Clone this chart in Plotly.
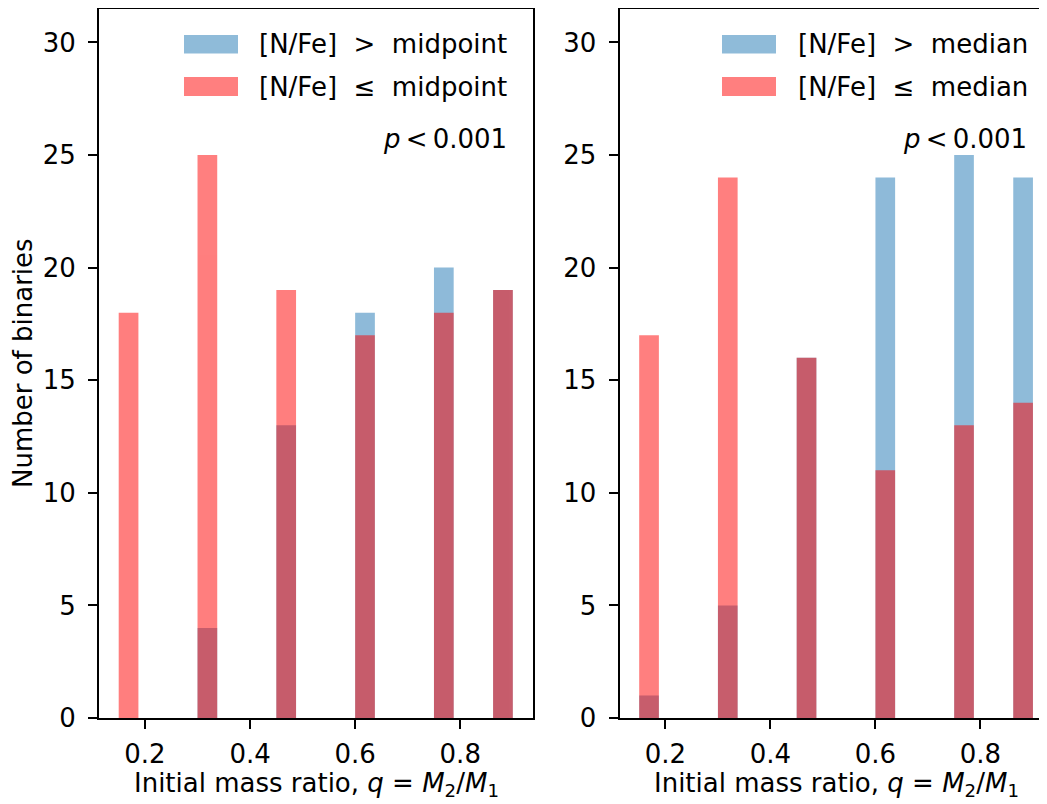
import plotly.graph_objects as go

# ---- data ----
bin_centers = [0.16875, 0.31875, 0.46875, 0.61875, 0.76875, 0.88125]
bin_width = 0.0375
mid_high = [0, 4, 13, 18, 20, 19]     # [N/Fe] > midpoint
mid_low = [18, 25, 19, 17, 18, 19]    # [N/Fe] <= midpoint
med_high = [1, 5, 16, 24, 25, 24]     # [N/Fe] > median
med_low = [17, 24, 16, 11, 13, 14]    # [N/Fe] <= median
x_ticks = [0.2, 0.4, 0.6, 0.8]
x_ticktext = ["0.2", "0.4", "0.6", "0.8"]
y_ticks = [0, 5, 10, 15, 20, 25, 30]
labels_left = ["[N/Fe]\u00a0\u00a0>\u00a0\u00a0midpoint", "[N/Fe]\u00a0\u00a0\u2264\u00a0\u00a0midpoint"]
labels_right = ["[N/Fe]\u00a0\u00a0>\u00a0\u00a0median", "[N/Fe]\u00a0\u00a0\u2264\u00a0\u00a0median"]
p_text = "<i>p</i>\u2009&lt;\u20090.001"
xlabel = "Initial mass ratio, <i>q</i>\u00a0=\u00a0<i>M</i><sub>2</sub>/<i>M</i><sub>1</sub>"
ylabel = "Number of binaries"

BLUE = "#1f77b4"
RED = "#ff0000"
FONT = "DejaVu Sans"
FS = 26

OFF = 8  # page body margin
W, H = 1047 - OFF, 804 - OFF
ML, MR, MT, MB = 91, 0, 1, 86
PW = W - ML - MR
PH = H - MT - MB
PX_PER_UNIT_Y = 22.52


def px(x_page):
    return (x_page - OFF - ML) / PW


def py(y_page):
    return (H - MB - (y_page - OFF)) / PH


fig = go.Figure()
for xa, ya, hi, lo in [("x", "y", mid_high, mid_low), ("x2", "y2", med_high, med_low)]:
    fig.add_trace(go.Bar(x=bin_centers, y=hi, width=bin_width, marker=dict(color=BLUE, line=dict(width=0)),
                         opacity=0.5, xaxis=xa, yaxis=ya, showlegend=False))
    fig.add_trace(go.Bar(x=bin_centers, y=lo, width=bin_width, marker=dict(color=RED, line=dict(width=0)),
                         opacity=0.5, xaxis=xa, yaxis=ya, showlegend=False))

left_end = px(532.5)
right_start = px(619.5)
xr_left = [0.1125, 0.9375]
xr_right = [0.1125, 0.1125 + (1047 - 619.5) / 525.0]
yr = [0, PH / PX_PER_UNIT_Y]

axis_common = dict(showgrid=False, zeroline=False, showline=True, linecolor="black", linewidth=2,
                   ticks="outside", ticklen=9, tickwidth=2, tickcolor="black",
                   tickfont=dict(family=FONT, size=FS, color="black"))

fig.update_layout(
    width=W, height=H,
    margin=dict(l=ML, r=MR, t=MT, b=MB),
    paper_bgcolor="white", plot_bgcolor="white",
    barmode="overlay",
    showlegend=False,
    xaxis=dict(domain=[0, left_end], range=xr_left, tickvals=x_ticks, ticktext=x_ticktext,
               mirror=True, anchor="y", ticklabelstandoff=3, **axis_common),
    yaxis=dict(domain=[0, 1], range=yr, tickvals=y_ticks, mirror=True, anchor="x",
               ticklabelstandoff=7, **axis_common),
    xaxis2=dict(domain=[right_start, 1], range=xr_right, tickvals=x_ticks, ticktext=x_ticktext,
                mirror=True, anchor="y2", ticklabelstandoff=3, **axis_common),
    yaxis2=dict(domain=[0, 1], range=yr, tickvals=y_ticks, mirror=False, anchor="x2",
                ticklabelstandoff=7, **axis_common),
)

shapes = []
annotations = []
legend_rows = [(35, 53.5), (77, 96)]
for (patch_x0, text_x, text_right, labels) in [(184, 257, 509, labels_left), (722, 796, 1029, labels_right)]:
    for (y0, y1), col, lab in zip(legend_rows, [BLUE, RED], labels):
        shapes.append(dict(type="rect", xref="paper", yref="paper",
                           x0=px(patch_x0), x1=px(patch_x0 + 54), y0=py(y1), y1=py(y0),
                           fillcolor=col, opacity=0.5, line=dict(width=0), layer="above"))
        annotations.append(dict(xref="paper", yref="paper", x=px(text_x), y=py((y0 + y1) / 2),
                                xanchor="left", yanchor="middle", text=lab, showarrow=False,
                                font=dict(family=FONT, size=FS, color="black")))
    annotations.append(dict(xref="paper", yref="paper", x=px(text_right), y=py(139),
                            xanchor="right", yanchor="middle", text=p_text, showarrow=False,
                            font=dict(family=FONT, size=FS, color="black")))

# axis titles
for cx in [(99.5 + 532.5) / 2, (619.5 + 1052.5) / 2]:
    annotations.append(dict(xref="paper", yref="paper", x=px(cx), y=py(784),
                            xanchor="center", yanchor="middle", text=xlabel, showarrow=False,
                            font=dict(family=FONT, size=FS, color="black")))
annotations.append(dict(xref="paper", yref="paper", x=px(23), y=py(363), textangle=-90,
                        xanchor="center", yanchor="middle", text=ylabel, showarrow=False,
                        font=dict(family=FONT, size=FS, color="black")))

fig.update_layout(shapes=shapes, annotations=annotations)
fig.write_html("out.html")
